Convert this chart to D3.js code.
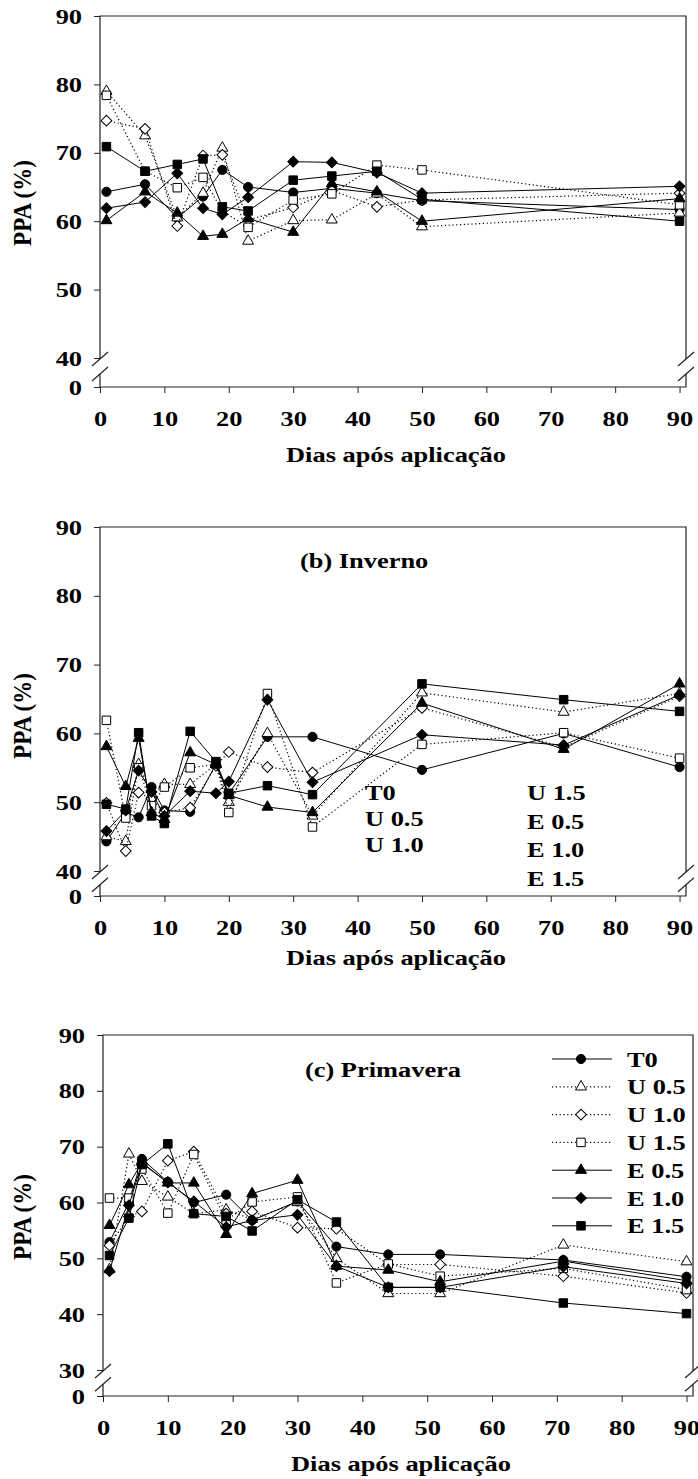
<!DOCTYPE html>
<html>
<head>
<meta charset="utf-8">
<script src="https://cdn.jsdelivr.net/npm/d3@7"></script>
<style>
  body { margin: 0; background: #fff; }
  svg text { font-family: "Liberation Serif", "Times New Roman", serif; font-weight: bold; fill: #000; }
</style>
</head>
<body>
<div id="app"></div>
<script>
const WIDTH = 698
const HEIGHT = 1479
const STRETCH = 1.2 // the source figure is a bit wider than tall

const seriesNames = ['T0', 'U 0.5', 'U 1.0', 'U 1.5', 'E 0.5', 'E 1.0', 'E 1.5']
const xTicks = [0, 10, 20, 30, 40, 50, 60, 70, 80, 90]

// (a) - no title in the picture
const daysA = [1, 7, 12, 16, 19, 23, 30, 36, 43, 50, 90]
const aT0  = [64.3, 65.4, 60.5, 63.6, 67.5, 65.0, 64.2, 64.8, 64.1, 63.0, 61.7]
const aU05 = [79.0, 72.5, 60.5, 64.1, 70.7, 57.1, 60.1, 60.2, 64.0, 59.2, 61.2]
const aU10 = [74.7, 73.5, 59.3, 69.6, 69.7, 60.2, 62.0, 64.5, 62.1, 63.1, 64.1]
const aU15 = [78.4, 67.3, 64.9, 66.4, 61.5, 59.1, 63.1, 64.0, 68.2, 67.5, 62.4]
const aE05 = [60.1, 64.3, 61.2, 57.8, 58.1, 60.4, 58.4, 65.5, 64.3, 60.0, 63.3]
const aE10 = [61.9, 62.8, 67.0, 61.9, 61.0, 63.5, 68.7, 68.6, 67.1, 64.1, 65.1]
const aE15 = [70.9, 67.3, 68.3, 69.1, 62.1, 61.5, 66.0, 66.6, 67.3, 63.2, 60.0]

// (b) Inverno
const daysB = [1, 4, 6, 8, 10, 14, 18, 20, 26, 33, 50, 72, 90]
const bT0  = [44.3, 48.5, 47.8, 52.2, 48.8, 48.6, 55.5, 51.2, 59.5, 59.5, 54.7, 60.0, 55.1]
const bU05 = [45.0, 44.3, 55.5, 51.0, 52.6, 52.6, 55.5, 50.0, 60.0, 48.0, 65.9, 63.1, 65.8]
const bU10 = [49.9, 42.9, 51.4, 50.5, 48.5, 49.2, 55.3, 57.3, 55.1, 54.3, 63.7, 58.0, 65.4]
const bU15 = [61.9, 47.7, 55.0, 49.5, 52.2, 55.0, 55.5, 48.5, 65.8, 46.4, 58.4, 60.1, 56.4]
const bE05 = [58.1, 52.3, 59.3, 48.5, 47.5, 57.2, 55.5, 51.0, 49.3, 48.5, 64.4, 57.7, 67.2]
const bE10 = [45.8, 48.8, 54.6, 51.5, 48.0, 51.6, 51.3, 53.0, 64.9, 52.9, 59.8, 58.3, 65.6]
const bE15 = [49.7, 49.0, 60.1, 48.0, 46.9, 60.3, 55.9, 51.3, 52.4, 51.1, 67.2, 64.9, 63.2]

// (c) Primavera
const daysC = [1, 4, 6, 10, 14, 19, 23, 30, 36, 44, 52, 71, 90]
const cT0  = [52.9, 60.0, 67.8, 63.7, 60.0, 61.4, 56.8, 60.2, 52.1, 50.7, 50.7, 49.7, 46.7]
const cU05 = [48.0, 68.7, 63.8, 61.0, 58.0, 58.7, 57.0, 60.0, 50.0, 43.7, 43.7, 52.4, 49.4]
const cU10 = [52.3, 57.5, 58.4, 67.5, 69.1, 58.0, 58.4, 55.5, 55.3, 48.9, 48.9, 46.8, 43.8]
const cU15 = [60.8, 60.8, 66.0, 58.1, 68.6, 56.8, 60.1, 61.0, 45.6, 49.0, 46.8, 48.2, 44.4]
const cE05 = [55.9, 63.2, 67.2, 63.5, 63.5, 54.3, 61.6, 64.0, 48.6, 47.9, 45.8, 49.5, 46.0]
const cE10 = [47.7, 59.5, 67.0, 63.6, 60.2, 55.6, 56.8, 57.8, 48.6, 44.8, 44.8, 48.5, 45.5]
const cE15 = [50.5, 57.2, 66.8, 70.5, 58.0, 57.5, 54.9, 60.5, 56.5, 44.8, 44.8, 42.0, 40.1]

// marker / line style per series
const symbols = [d3.symbolCircle, d3.symbolTriangle, d3.symbolSquare, d3.symbolSquare, d3.symbolTriangle, d3.symbolSquare, d3.symbolSquare]
const symbolSize = [66, 52, 58, 72, 52, 58, 72]
const rotated = [false, false, true, false, false, true, false]
const filled = [true, false, false, false, true, true, true]
const dotted = [false, true, true, true, false, false, false]

const panels = [
  { days: daysA, values: [aT0, aU05, aU10, aU15, aE05, aE10, aE15], yMin: 40,
    left: 100, right: 686, top: 16, yLow: 358, bottom: 387, xLabelY: 462, yLabelY: 203 },
  { days: daysB, values: [bT0, bU05, bU10, bU15, bE05, bE10, bE15], yMin: 40,
    left: 100, right: 686, top: 527, yLow: 871, bottom: 896, xLabelY: 965, yLabelY: 716,
    title: '(b) Inverno', titleX: 300, titleY: 568, textLegend: true },
  { days: daysC, values: [cT0, cU05, cU10, cU15, cE05, cE10, cE15], yMin: 30,
    left: 103, right: 693, top: 1035, yLow: 1370, bottom: 1396, xLabelY: 1471, yLabelY: 1217,
    title: '(c) Primavera', titleX: 305, titleY: 1077, legend: true }
]

const svg = d3.select('#app').append('svg')
  .attr('width', WIDTH)
  .attr('height', HEIGHT)
  .style('background-color', '#fff')

function marker(sel, i) {
  sel.append('path')
    .attr('d', d3.symbol().type(symbols[i]).size(symbolSize[i])())
    .attr('transform', rotated[i] ? 'rotate(45)' : null)
    .attr('fill', filled[i] ? '#000' : '#fff')
    .attr('stroke', '#000')
    .attr('stroke-width', 1)
}

function label(g, txt, x, y, size, anchor) {
  return g.append('text')
    .attr('transform', `translate(${x},${y}) scale(${STRETCH},1)`)
    .attr('text-anchor', anchor || 'start')
    .style('font-size', size + 'px')
    .text(txt)
}

panels.forEach(p => {
  const x = d3.scaleLinear().domain([0, 91]).range([p.left, p.right])
  const y = d3.scaleLinear().domain([p.yMin, 90]).range([p.yLow, p.top])
  const yTicks = d3.range(p.yMin, 91, 10)
  const g = svg.append('g')

  // axes (ticks + labels), frame drawn separately
  const xAxis = g.append('g')
    .attr('transform', `translate(0,${p.bottom})`)
    .call(d3.axisBottom(x).tickValues(xTicks).tickSize(6).tickPadding(17))
  const yAxis = g.append('g')
    .attr('transform', `translate(${p.left},0)`)
    .call(d3.axisLeft(y).tickValues(yTicks).tickSize(6).tickPadding(9))
  const yZero = g.append('g')
    .attr('transform', `translate(${p.left},0)`)
    .call(d3.axisLeft(d3.scalePoint().domain(['0']).range([p.bottom, p.bottom])).tickSize(6).tickPadding(9))

  ;[xAxis, yAxis, yZero].forEach(a => {
    a.select('.domain').remove()
    a.selectAll('line').attr('stroke', '#222')
    a.selectAll('text')
      .attr('transform', `scale(${STRETCH},1)`)
      .attr('fill', '#000')
      .style('font-size', '22px')
      .style('font-family', '"Liberation Serif", serif')
      .style('font-weight', 'bold')
  })

  // frame with broken y axis
  const brk1 = p.yLow + 1
  const brk2 = p.yLow + (p.bottom - p.yLow) * 0.55
  const frame = g.append('g').attr('stroke', '#222').attr('stroke-width', 1.2).attr('fill', 'none')
  frame.append('path').attr('d', `M${p.left},${brk1}V${p.top}H${p.right}V${brk1}`)
  frame.append('path').attr('d', `M${p.left},${brk2}V${p.bottom}H${p.right}V${brk2}`)
  ;[p.left, p.right].forEach(bx => {
    ;[brk1, brk2].forEach(by => {
      frame.append('line')
        .attr('x1', bx - 8).attr('y1', by + 7)
        .attr('x2', bx + 8).attr('y2', by - 7)
    })
  })

  // series
  p.values.forEach((vals, i) => {
    const pts = p.days.map((d, j) => [d, vals[j]])
    g.append('path')
      .attr('d', d3.line().x(d => x(d[0])).y(d => y(d[1]))(pts))
      .attr('fill', 'none')
      .attr('stroke', '#000')
      .attr('stroke-width', dotted[i] ? 1.2 : 1)
      .attr('stroke-dasharray', dotted[i] ? '1.2,2.6' : null)
    g.append('g').selectAll('g')
      .data(pts)
      .enter()
    .append('g')
      .attr('transform', d => `translate(${x(d[0])},${y(d[1])})`)
      .each(function () { marker(d3.select(this), i) })
  })

  // axis titles
  label(g, 'Dias após aplicação', (p.left + p.right) / 2 + 3, p.xLabelY, 22, 'middle')
  g.append('text')
    .attr('transform', `translate(31,${p.yLabelY}) rotate(-90) scale(1,${STRETCH * 0.95})`)
    .attr('text-anchor', 'middle')
    .style('font-size', '23px')
    .text('PPA (%)')

  if (p.title) label(g, p.title, p.titleX, p.titleY, 22)

  if (p.textLegend) {
    // legend texts without symbols, as in the picture
    const leftCol = seriesNames.slice(0, 3)
    const rightCol = seriesNames.slice(3)
    leftCol.forEach((s, k) => label(g, s, 365, 800 + k * 26, 22))
    rightCol.forEach((s, k) => label(g, s, 527, 800 + k * 28.7, 22))
  }

  if (p.legend) {
    const lg = g.append('g')
    seriesNames.forEach((s, i) => {
      const ly = 1059 + i * 27.8
      lg.append('line')
        .attr('x1', 552).attr('x2', 612).attr('y1', ly).attr('y2', ly)
        .attr('stroke', '#000').attr('stroke-width', dotted[i] ? 1.2 : 1)
        .attr('stroke-dasharray', dotted[i] ? '1.2,2.6' : null)
      marker(lg.append('g').attr('transform', `translate(581,${ly})`), i)
      label(lg, s, 627, ly + 7.5, 22)
    })
  }
})
</script>
</body>
</html>
